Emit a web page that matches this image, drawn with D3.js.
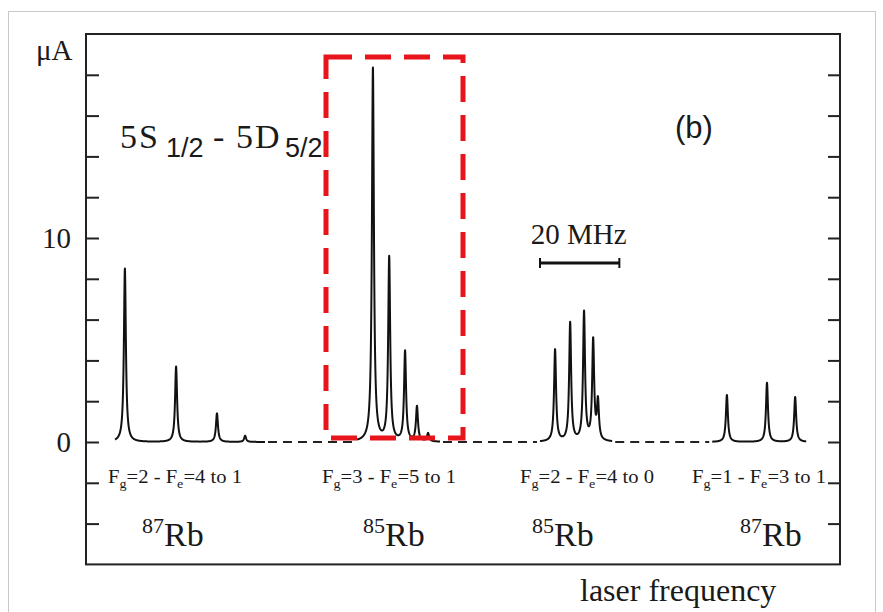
<!DOCTYPE html>
<html>
<head>
<meta charset="utf-8">
<script src="https://cdn.jsdelivr.net/npm/d3@7"></script>
<style>
  body { margin: 0; background: #fff; }
  svg text { font-family: "Liberation Serif", "DejaVu Serif", serif; fill: #1a1a1a; }
</style>
</head>
<body>
<div id="chart-area"></div>
<script>
const width = 883;
const height = 612;

// peak positions (MHz) and heights (uA), one list per hyperfine group
const peaks87a = [[9.8, 8.5], [22.7, 3.7], [33.0, 1.4], [40.1, 0.3]];
const peaks85a = [[72.3, 18.3], [76.4, 9.0], [80.4, 4.4], [83.4, 1.7], [86.2, 0.4]];
const peaks85b = [[118.2, 4.5], [122.0, 5.8], [125.5, 6.3], [127.8, 4.9], [129.0, 1.9]];
const peaks87b = [[161.5, 2.3], [171.6, 2.9], [178.7, 2.2]];

// extent of the solid scan around each group (MHz)
const groupSpans = [[7.3, 45.1], [68.3, 89.2], [114.4, 132.6], [157.8, 181.5]];
const groupLabels = [
    ["2", "4 to 1"], ["3", "5 to 1"], ["2", "4 to 0"], ["1", "3 to 1"]
];
const isotopes = ["87", "85", "85", "87"];
const yTicks = [-4, -2, 0, 2, 4, 6, 8, 10, 12, 14, 16, 18];
const yLabels = [0, 10];

const svg = d3.select("#chart-area")
    .append("svg")
        .attr("width", width)
        .attr("height", height);

// light frame around the figure
svg.append("rect")
    .attr("x", 8.5).attr("y", 11.5)
    .attr("width", 867).attr("height", 610)
    .attr("fill", "none")
    .attr("stroke", "#c8c8c8")
    .attr("stroke-width", 1);

const x = d3.scaleLinear().domain([0, 190]).range([86, 840]);
const y = d3.scaleLinear().domain([-6, 20]).range([564.4, 34]);

// plot frame
svg.append("rect")
    .attr("x", x(0)).attr("y", y(20))
    .attr("width", x(190) - x(0)).attr("height", y(-6) - y(20))
    .attr("fill", "none")
    .attr("stroke", "#222")
    .attr("stroke-width", 2);

// left ticks point inward
const leftAxis = svg.append("g")
    .attr("transform", `translate(${x(0)},0)`)
    .call(d3.axisRight(y).tickValues(yTicks).tickSize(13).tickFormat(""));
leftAxis.select(".domain").remove();
leftAxis.selectAll("line").attr("stroke", "#222").attr("stroke-width", 2);

const rightAxis = svg.append("g")
    .attr("transform", `translate(${x(190)},0)`)
    .call(d3.axisLeft(y).tickValues(yTicks).tickSize(12).tickFormat(""));
rightAxis.select(".domain").remove();
rightAxis.selectAll("line").attr("stroke", "#222").attr("stroke-width", 2);

svg.selectAll(".ylab")
    .data(yLabels)
    .enter()
    .append("text")
        .attr("x", 71)
        .attr("y", d => y(d) + 10)
        .attr("text-anchor", "end")
        .style("font-size", "29px")
        .text(d => d);

svg.append("text")
    .attr("x", 36).attr("y", 60)
    .style("font-size", "29px")
    .text("μA");

const gamma = 0.3;
const allGroups = [peaks87a, peaks85a, peaks85b, peaks87b];

function profile(peaks, f) {
    return d3.sum(peaks, p => p[1] * gamma * gamma / ((f - p[0]) * (f - p[0]) + gamma * gamma));
}

const line = d3.line()
    .x(d => x(d[0]))
    .y(d => y(d[1]));

allGroups.forEach((peaks, i) => {
    const span = groupSpans[i];
    const fs = d3.range(span[0], span[1], 0.02).concat(peaks.map(p => p[0])).sort((a, b) => a - b);
    const pts = fs.map(f => [f, profile(peaks, f)]);
    svg.append("path")
        .attr("d", line(pts))
        .attr("fill", "none")
        .attr("stroke", "#111")
        .attr("stroke-width", 2)
        .attr("stroke-linejoin", "round");
});

// dashed baseline between the groups
for (let i = 0; i < groupSpans.length - 1; i++) {
    svg.append("line")
        .attr("x1", x(groupSpans[i][1]) + 3)
        .attr("x2", x(groupSpans[i + 1][0]) - 3)
        .attr("y1", y(0)).attr("y2", y(0))
        .attr("stroke", "#222")
        .attr("stroke-width", 2)
        .attr("stroke-dasharray", "9,6");
}

// transition labels under each group
const labelX = [108, 322, 520, 692];
groupLabels.forEach((d, i) => {
    const t = svg.append("text")
        .attr("x", labelX[i]).attr("y", 483)
        .style("font-size", "19px")
        .attr("textLength", 134)
        .attr("lengthAdjust", "spacingAndGlyphs");
    t.append("tspan").text("F");
    t.append("tspan").attr("dy", 5).style("font-size", "13px").text("g");
    t.append("tspan").attr("dy", -5).text(`=${d[0]} - F`);
    t.append("tspan").attr("dy", 5).style("font-size", "13px").text("e");
    t.append("tspan").attr("dy", -5).text(`=${d[1]}`);
});

const isoX = [142, 363, 532, 740];
isotopes.forEach((d, i) => {
    const t = svg.append("text")
        .attr("x", isoX[i]).attr("y", 546)
        .style("font-size", "34px");
    t.append("tspan").attr("dy", -13).style("font-size", "22px").text(d);
    t.append("tspan").attr("dy", 13).text("Rb");
});

// transition title, pieces placed to match the spread-out original
const titleParts = [
    { t: "5S", x: 120, y: 148, size: 34, sans: false },
    { t: "1/2", x: 166, y: 157, size: 27, sans: true },
    { t: "-", x: 213, y: 148, size: 34, sans: false },
    { t: "5D", x: 236, y: 148, size: 34, sans: false },
    { t: "5/2", x: 285, y: 157, size: 27, sans: true }
];
titleParts.forEach(p => {
    const el = svg.append("text")
        .attr("x", p.x).attr("y", p.y)
        .style("font-size", p.size + "px")
        .style("letter-spacing", p.sans ? "0px" : "2px")
        .text(p.t);
    if (p.sans) el.style("font-family", "Liberation Sans, sans-serif");
});

svg.append("text")
    .attr("x", 675).attr("y", 138)
    .style("font-size", "31px")
    .style("font-family", "Liberation Sans, sans-serif")
    .text("(b)");

// 20 MHz scale bar
const barStart = 114.4;
const barLen = 20;
svg.append("text")
    .attr("x", (x(barStart) + x(barStart + barLen)) / 2 - 1).attr("y", 244)
    .attr("text-anchor", "middle")
    .style("font-size", "29px")
    .text("20 MHz");
svg.append("line")
    .attr("x1", x(barStart)).attr("x2", x(barStart + barLen))
    .attr("y1", 263).attr("y2", 263)
    .attr("stroke", "#111").attr("stroke-width", 3);
[barStart, barStart + barLen].forEach(f => {
    svg.append("line")
        .attr("x1", x(f)).attr("x2", x(f))
        .attr("y1", 258).attr("y2", 268)
        .attr("stroke", "#111").attr("stroke-width", 2);
});

svg.append("text")
    .attr("x", 580).attr("y", 601)
    .style("font-size", "32px")
    .text("laser frequency");

// red dashed highlight box around the 85Rb Fg=3 group (drawn on top)
svg.append("rect")
    .attr("x", 326).attr("y", 57)
    .attr("width", 137).attr("height", 381)
    .attr("fill", "none")
    .attr("stroke", "#e8141b")
    .attr("stroke-width", 5)
    .attr("stroke-dasharray", "26,13");
</script>
</body>
</html>
